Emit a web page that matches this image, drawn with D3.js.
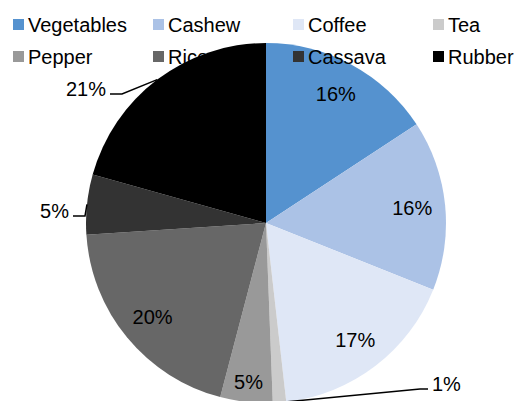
<!DOCTYPE html>
<html>
<head>
<meta charset="utf-8">
<script src="https://cdn.jsdelivr.net/npm/d3@7"></script>
<style>
    body { margin: 0; background: #fff; }
    svg { display: block; font-family: "Liberation Sans", Arial, sans-serif; }
</style>
</head>
<body>
<div id="chart"></div>
<script>
const crops = ['Vegetables', 'Cashew', 'Coffee', 'Tea', 'Pepper', 'Rice', 'Cassava', 'Rubber'];
const shares = [15.8, 15.3, 17.2, 1.2, 4.7, 19.9, 5.4, 20.7];
const shareLabels = ['16%', '16%', '17%', '1%', '5%', '20%', '5%', '21%'];
const colors = ['#5592cf', '#abc2e6', '#dfe7f6', '#cbcbcb', '#999999', '#676767', '#333333', '#000000'];

// slices whose label sits outside with a leader line
const outside = {
    Tea: { elbow: [420, 389], end: [428, 389], anchor: 'start' },
    Cassava: { elbow: [85, 216], end: [73, 216], anchor: 'end' },
    Rubber: { elbow: [122, 94], end: [110, 94], anchor: 'end' }
};

const width = 516, height = 401;
const cx = 266, cy = 223, radius = 180;
const fontSize = '20px';

const svg = d3.select('#chart').append('svg')
    .attr('width', width)
    .attr('height', height);

const data = crops.map((c, i) => ({ crop: c, value: shares[i], label: shareLabels[i], color: colors[i] }));

const pie = d3.pie().sort(null).value(d => d.value);
const arc = d3.arc().innerRadius(0).outerRadius(radius);
const arcs = pie(data);

const g = svg.append('g').attr('transform', `translate(${cx},${cy})`);

g.selectAll('path')
    .data(arcs)
    .enter().append('path')
    .attr('d', arc)
    .attr('fill', d => d.data.color);

// inside labels
const labelArc = d3.arc().innerRadius(147).outerRadius(147);
const pepperArc = d3.arc().innerRadius(160).outerRadius(160);
g.selectAll('text.inner')
    .data(arcs.filter(d => !outside[d.data.crop]))
    .enter().append('text')
    .attr('class', 'inner')
    .attr('transform', d => `translate(${(d.data.crop === 'Pepper' ? pepperArc : labelArc).centroid(d)})`)
    .attr('text-anchor', 'middle')
    .attr('dy', '0.35em')
    .attr('font-size', fontSize)
    .attr('fill', '#000')
    .text(d => d.data.label);

// outside labels with leader lines
const edgeArc = d3.arc().innerRadius(radius).outerRadius(radius);
arcs.filter(d => outside[d.data.crop]).forEach(d => {
    const o = outside[d.data.crop];
    const p = edgeArc.centroid(d);
    const start = [p[0] + cx, p[1] + cy];
    svg.append('polyline')
        .attr('points', [start, o.elbow, o.end].map(q => q.join(',')).join(' '))
        .attr('fill', 'none')
        .attr('stroke', '#000')
        .attr('stroke-width', 1.5);
    svg.append('text')
        .attr('x', o.anchor === 'end' ? o.end[0] - 4 : o.end[0] + 4)
        .attr('y', o.end[1] - 5)
        .attr('text-anchor', o.anchor)
        .attr('dy', '0.35em')
        .attr('font-size', fontSize)
        .text(d.data.label);
});

// legend, 4 per row
const legend = svg.append('g');
const item = legend.selectAll('g')
    .data(data)
    .enter().append('g')
    .attr('transform', (d, i) => `translate(${13 + (i % 4) * 140},${19 + Math.floor(i / 4) * 32})`);

item.append('rect')
    .attr('width', 11)
    .attr('height', 11)
    .attr('fill', d => d.color);

item.append('text')
    .attr('x', 15)
    .attr('y', 5.5)
    .attr('dy', '0.35em')
    .attr('font-size', fontSize)
    .attr('fill', '#000')
    .text(d => d.crop);
</script>
</body>
</html>
